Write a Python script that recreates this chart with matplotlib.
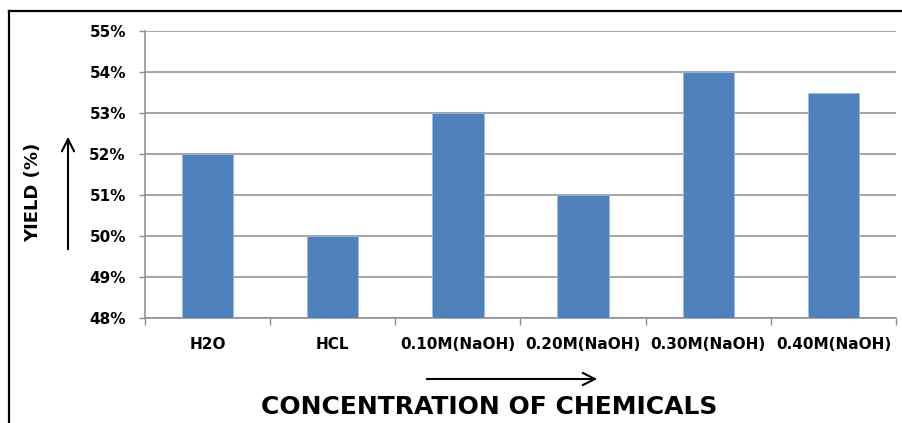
import numpy as np
import matplotlib.pyplot as plt
from matplotlib.lines import Line2D
from matplotlib.patches import FancyArrowPatch
from matplotlib.ticker import FuncFormatter, FixedLocator

plt.rcParams["font.family"] = "DejaVu Sans"
plt.rcParams["font.weight"] = "bold"

categories = ["H2O", "HCL", "0.10M(NaOH)", "0.20M(NaOH)", "0.30M(NaOH)", "0.40M(NaOH)"]
yield_pct = [52, 50, 53, 51, 54, 53.5]
y_ticks = [48, 49, 50, 51, 52, 53, 54, 55]

fig = plt.figure(figsize=(9.03, 4.23), dpi=100)
ax = fig.add_axes([145 / 903, 1 - 318 / 423, (896 - 145) / 903, (318 - 31) / 423])

x = np.arange(len(categories))
ax.bar(x, yield_pct, width=0.41, color="#4F81BD", edgecolor="#9DB9E0", linewidth=0.6, zorder=3)

ax.set_xlim(-0.5, len(categories) - 0.5)
ax.set_ylim(y_ticks[0], y_ticks[-1])
ax.set_yticks(y_ticks)
ax.yaxis.set_major_formatter(FuncFormatter(lambda v, p: f"{v:.0f}%"))
ax.grid(axis="y", color="#8c8c8c", linewidth=1.1, zorder=0)

# category labels on major ticks, boundary marks on minor ticks
ax.set_xticks(x)
ax.set_xticklabels(categories)
ax.xaxis.set_minor_locator(FixedLocator(np.arange(-0.5, len(categories), 1.0)))
ax.tick_params(axis="x", which="major", length=0, pad=14, labelsize=11)
ax.tick_params(axis="x", which="minor", length=5, color="#8c8c8c", width=1)
ax.tick_params(axis="y", length=4.3, color="#8c8c8c", width=1, pad=9.5, labelsize=11)

for s in ["top", "right"]:
    ax.spines[s].set_visible(False)
for s in ["left", "bottom"]:
    ax.spines[s].set_color("#8c8c8c")
    ax.spines[s].set_linewidth(1.1)

# axis titles with direction arrows
fig.text(489 / 903, 1 - 407 / 423, "CONCENTRATION OF CHEMICALS", ha="center", va="center",
         fontsize=18, fontweight="bold")
fig.text(33 / 903, 1 - 192 / 423, "YIELD (%)", ha="center", va="center", rotation=90,
         fontsize=13, fontweight="bold")
fig.add_artist(FancyArrowPatch(
    (424 / 903, 1 - 379 / 423), (600 / 903, 1 - 379 / 423), transform=fig.transFigure,
    arrowstyle="->", mutation_scale=22, linewidth=1.5, color="black"))
fig.add_artist(FancyArrowPatch(
    (68 / 903, 1 - 252 / 423), (68 / 903, 1 - 134 / 423), transform=fig.transFigure,
    arrowstyle="->", mutation_scale=22, linewidth=1.5, color="black"))

# frame lines at left and top
fig.add_artist(Line2D([9 / 903, 9 / 903], [0, 1 - 11 / 423], transform=fig.transFigure,
                      color="black", linewidth=1.6))
fig.add_artist(Line2D([9 / 903, 1], [1 - 11 / 423, 1 - 11 / 423], transform=fig.transFigure,
                      color="black", linewidth=1.6))

fig.savefig("out.png", dpi=100)
